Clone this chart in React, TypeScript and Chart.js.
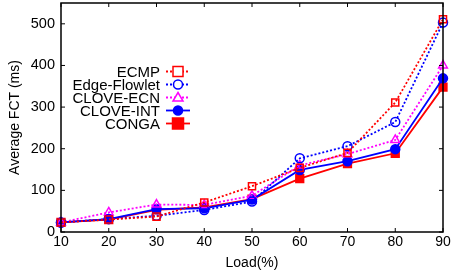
import React, { useEffect, useRef } from "react";
import { Chart, registerables } from "chart.js";

Chart.register(...registerables);

const loads = ["10", "20", "30", "40", "50", "60", "70", "80", "90"];
const ecmp = [23, 30, 37, 71, 110, 154, 190, 311, 511];
const edgeFlowlet = [23, 31, 39, 53, 73, 177, 206, 264, 503];
const cloveEcn = [23, 47, 66, 65, 87, 160, 187, 221, 400];
const cloveInt = [23, 31, 55, 57, 78, 149, 170, 199, 369];
const conga = [23, 30, 53, 59, 79, 128, 164, 189, 348];
const yTicks = [0, 100, 200, 300, 400, 500];

const RED = "#ff0000";
const BLUE = "#0000ff";
const MAG = "#ff00ff";
const FONT = "'Liberation Sans', Arial, sans-serif";

type S = { label: string; data: number[]; color: string; dash: number[]; style: string; fill: boolean; r: number };
const seriesDefs: S[] = [
  { label: "ECMP", data: ecmp, color: RED, dash: [2, 2], style: "rect", fill: false, r: 5 },
  { label: "Edge-Flowlet", data: edgeFlowlet, color: BLUE, dash: [2, 2], style: "circle", fill: false, r: 4.5 },
  { label: "CLOVE-ECN", data: cloveEcn, color: MAG, dash: [2, 2], style: "triangle", fill: false, r: 5 },
  { label: "CLOVE-INT", data: cloveInt, color: BLUE, dash: [], style: "circle", fill: true, r: 4.5 },
  { label: "CONGA", data: conga, color: RED, dash: [], style: "rect", fill: true, r: 5.5 },
];

const framePlugin = {
  id: "frame",
  afterDraw(chart: any) {
    const { ctx, chartArea: a, scales } = chart;
    ctx.save();
    ctx.strokeStyle = "#000";
    ctx.lineWidth = 1.5;
    ctx.strokeRect(a.left, a.top, a.right - a.left, a.bottom - a.top);
    ctx.lineWidth = 1;
    const tl = 4;
    const xs = scales.x;
    for (let i = 0; i < loads.length; i++) {
      const px = xs.getPixelForValue(i);
      ctx.beginPath();
      ctx.moveTo(px, a.bottom);
      ctx.lineTo(px, a.bottom - tl);
      ctx.moveTo(px, a.top);
      ctx.lineTo(px, a.top + tl);
      ctx.stroke();
    }
    const ys = scales.y;
    for (const v of yTicks) {
      const py = ys.getPixelForValue(v);
      ctx.beginPath();
      ctx.moveTo(a.left, py);
      ctx.lineTo(a.left + tl, py);
      ctx.moveTo(a.right, py);
      ctx.lineTo(a.right - tl, py);
      ctx.stroke();
    }
    // legend
    ctx.font = `15px ${FONT}`;
    ctx.textAlign = "right";
    ctx.textBaseline = "middle";
    seriesDefs.forEach((s, i) => {
      const y = 71.5 + 13 * i;
      ctx.fillStyle = "#000";
      ctx.fillText(s.label, 160, y + 1);
      ctx.strokeStyle = s.color;
      ctx.lineWidth = 1.8;
      ctx.setLineDash(s.dash);
      ctx.beginPath();
      ctx.moveTo(166, y);
      ctx.lineTo(190, y);
      ctx.stroke();
      ctx.setLineDash([]);
      ctx.lineWidth = 1.5;
      const cx = 178;
      ctx.fillStyle = s.fill ? s.color : "#fff";
      ctx.beginPath();
      if (s.style === "rect") {
        ctx.rect(cx - s.r, y - s.r, 2 * s.r, 2 * s.r);
      } else if (s.style === "circle") {
        ctx.arc(cx, y, s.r, 0, Math.PI * 2);
      } else {
        ctx.moveTo(cx, y - s.r);
        ctx.lineTo(cx + s.r, y + s.r * 0.7);
        ctx.lineTo(cx - s.r, y + s.r * 0.7);
        ctx.closePath();
      }
      ctx.fill();
      ctx.stroke();
    });
    ctx.restore();
  },
};

export default function App() {
  const ref = useRef<HTMLCanvasElement>(null);
  useEffect(() => {
    document.body.style.margin = "0";
    const chart = new Chart(ref.current!, {
      type: "line",
      data: {
        labels: loads,
        datasets: seriesDefs.map((s) => ({
          label: s.label,
          data: s.data,
          borderColor: s.color,
          backgroundColor: s.fill ? s.color : "rgba(255,255,255,0)",
          borderWidth: 1.8,
          borderDash: s.dash,
          pointStyle: s.style as any,
          pointRadius: s.r,
          pointBorderWidth: 1.5,
          pointBorderColor: s.color,
          pointBackgroundColor: s.fill ? s.color : "rgba(255,255,255,0)",
          tension: 0,
          clip: false as any,
        })),
      },
      options: {
        animation: false,
        responsive: false,
        layout: { autoPadding: false, padding: { top: 3, right: 10, left: 0, bottom: 0 } },
        plugins: { legend: { display: false }, tooltip: { enabled: false } },
        scales: {
          x: {
            type: "category",
            offset: false,
            grid: { display: false, drawTicks: false },
            border: { display: false },
            ticks: { color: "#000", font: { size: 14, family: FONT }, padding: 2, maxRotation: 0 },
            title: { display: true, text: "Load(%)", color: "#000", font: { size: 14, family: FONT }, padding: { top: 4, bottom: 5 } },
            afterFit: (s: any) => {
              s.height = 45;
              s.paddingLeft = 0;
              s.paddingRight = 0;
              s.paddingTop = 0;
              s.paddingBottom = 0;
            },
          },
          y: {
            min: 0,
            max: 550,
            grid: { display: false, drawTicks: false },
            border: { display: false },
            afterBuildTicks: (s: any) => { s.ticks = yTicks.map((v) => ({ value: v })); },
            ticks: { color: "#000", font: { size: 14.5, family: FONT }, padding: 6 },
            title: { display: true, text: "Average FCT (ms)", color: "#000", font: { size: 14, family: FONT }, padding: { top: 7, bottom: 2 } },
            afterFit: (s: any) => {
              s.width = 61;
              s.paddingTop = 0;
              s.paddingBottom = 0;
              s.paddingLeft = 0;
              s.paddingRight = 0;
            },
          },
        },
      },
      plugins: [framePlugin],
    });
    return () => chart.destroy();
  }, []);
  return (
    <div style={{ position: "absolute", left: 0, top: 0, width: 453, height: 277, background: "#fff" }}>
      <canvas ref={ref} width={453} height={277} style={{ width: 453, height: 277 }} />
    </div>
  );
}
